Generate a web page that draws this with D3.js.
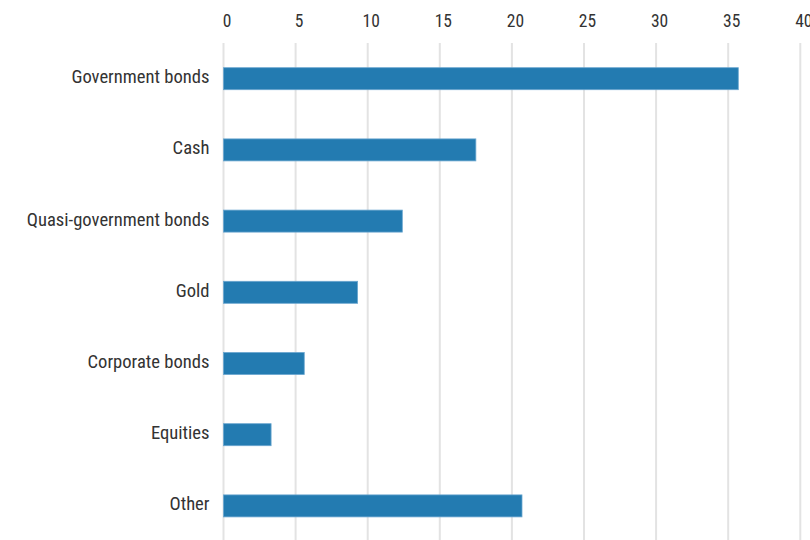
<!DOCTYPE html>
<html>
<head>
<meta charset="utf-8">
<script src="https://cdn.jsdelivr.net/npm/d3@7"></script>
<style>
  html, body { margin: 0; padding: 0; background: #fff; }
  svg text { font-family: "Roboto Condensed", "Liberation Sans Narrow", Roboto, sans-serif; fill: #333; }
</style>
</head>
<body>
<svg id="chart" width="810" height="540"></svg>
<script>
// Asset categories, top to bottom
const categories = [
  "Government bonds",
  "Cash",
  "Quasi-government bonds",
  "Gold",
  "Corporate bonds",
  "Equities",
  "Other"
];
// Share of holdings (%)
const values = [35.7, 17.5, 12.4, 9.3, 5.6, 3.3, 20.7];
// Axis ticks
const tickValues = [0, 5, 10, 15, 20, 25, 30, 35, 40];

const svg = d3.select("#chart");
const width = 810, height = 540;
const plotLeft = 223.5, plotRight = 800.3, gridTop = 43;

const x = d3.scaleLinear()
  .domain([0, 40])
  .range([plotLeft, plotRight]);

const y = d3.scaleBand()
  .domain(categories)
  .range([67.7, 516.9])
  .paddingInner(0.691)
  .paddingOuter(0);

// Vertical gridlines
svg.append("g")
  .selectAll("line")
  .data(tickValues)
  .join("line")
  .attr("x1", d => x(d)).attr("x2", d => x(d))
  .attr("y1", gridTop).attr("y2", height)
  .attr("stroke", "#e3e3e3")
  .attr("stroke-width", 2);

// Top axis labels
const xAxis = d3.axisTop(x).tickValues(tickValues).tickSize(0).tickPadding(0);
const gx = svg.append("g").attr("transform", "translate(3,27)").call(xAxis);
gx.select(".domain").remove();
gx.selectAll("text")
  .style("font-size", "17.5px")
  .attr("fill", "#333");

// Category labels
const yAxis = d3.axisLeft(y).tickSize(0).tickPadding(0);
const gy = svg.append("g").attr("transform", "translate(209.5,0)").call(yAxis);
gy.select(".domain").remove();
gy.selectAll("text")
  .style("font-size", "18.6px")
  .attr("dy", "0.24em")
  .attr("fill", "#333");

// Bars
svg.append("g")
  .selectAll("rect")
  .data(values)
  .join("rect")
  .attr("x", x(0))
  .attr("y", (d, i) => y(categories[i]))
  .attr("width", d => x(d) - x(0))
  .attr("height", y.bandwidth())
  .attr("fill", "#237bb1")
  .attr("stroke", "#6aa6cf")
  .attr("stroke-width", 0.8);
</script>
</body>
</html>
